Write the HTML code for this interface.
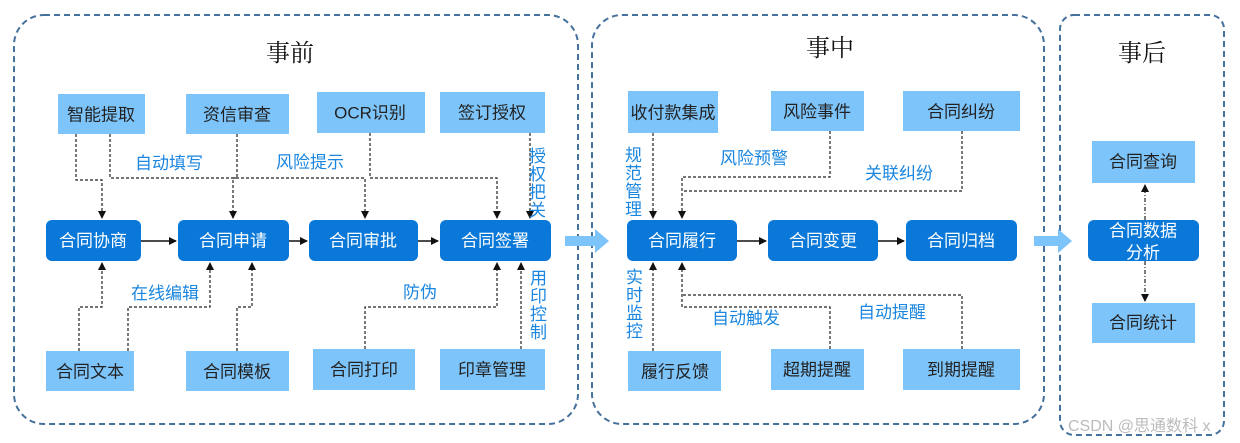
<!DOCTYPE html>
<html><head><meta charset="utf-8"><style>
html,body{margin:0;padding:0;background:#fff;width:1240px;height:443px;overflow:hidden}
svg text{font-family:"Liberation Sans","Noto Sans CJK SC",sans-serif}
.t{font-family:"Liberation Serif","Noto Serif CJK SC",serif;font-size:24px;fill:#111;text-anchor:middle}
.lb{fill:#7dc4fb}.db{fill:#0a78d8}
.bt{font-size:17px;fill:#222;text-anchor:middle;dominant-baseline:central}
.wt{font-size:17px;fill:#fff;text-anchor:middle;dominant-baseline:central}
.lab{font-size:17px;fill:#1a86e0}
.dl{fill:none;stroke:#222;stroke-width:1.2;stroke-dasharray:3,2}
.sl{stroke:#111;stroke-width:1.5}
</style></head><body>
<svg width="1240" height="443" viewBox="0 0 1240 443" xmlns="http://www.w3.org/2000/svg">
<defs><marker id="a" markerWidth="8" markerHeight="8" refX="7" refY="4" orient="auto" markerUnits="userSpaceOnUse"><path d="M0,0 L8,4 L0,8z" fill="#111"/></marker></defs>
<g fill="none" stroke="#46719c" stroke-width="2" stroke-dasharray="6,4">
<rect x="14" y="15" width="564" height="409" rx="30"/>
<rect x="592" y="15" width="452" height="409" rx="30"/>
<rect x="1060" y="15" width="164" height="420" rx="14"/>
</g>
<text class="t" x="290" y="61">事前</text>
<text class="t" x="830" y="56">事中</text>
<text class="t" x="1142" y="61">事后</text>
<!-- big arrows -->
<path d="M565,236 h30 v-7 l14,12 l-14,12 v-7 h-30z" fill="#7dc4fb"/>
<path d="M1034,236 h24 v-7 l14,12 l-14,12 v-7 h-24z" fill="#7dc4fb"/>
<!-- panel1 boxes -->
<rect class="lb" x="58" y="94" width="87" height="40"/><text class="bt" x="101" y="115">智能提取</text>
<rect class="lb" x="186" y="94" width="103" height="40"/><text class="bt" x="237" y="115">资信审查</text>
<rect class="lb" x="317" y="92" width="108" height="41"/><text class="bt" x="370" y="113">OCR识别</text>
<rect class="lb" x="440" y="92" width="105" height="41"/><text class="bt" x="492" y="113">签订授权</text>
<rect class="db" x="46" y="220" width="95" height="41" rx="6"/><text class="wt" x="93" y="241">合同协商</text>
<rect class="db" x="178" y="220" width="111" height="41" rx="6"/><text class="wt" x="233" y="241">合同申请</text>
<rect class="db" x="309" y="220" width="109" height="41" rx="6"/><text class="wt" x="363" y="241">合同审批</text>
<rect class="db" x="440" y="220" width="111" height="41" rx="6"/><text class="wt" x="495" y="241">合同签署</text>
<rect class="lb" x="46" y="351" width="88" height="40"/><text class="bt" x="90" y="372">合同文本</text>
<rect class="lb" x="186" y="351" width="103" height="40"/><text class="bt" x="237" y="372">合同模板</text>
<rect class="lb" x="313" y="349" width="102" height="41"/><text class="bt" x="364" y="370">合同打印</text>
<rect class="lb" x="440" y="349" width="105" height="41"/><text class="bt" x="492" y="370">印章管理</text>
<line class="sl" x1="141" y1="241" x2="176" y2="241" marker-end="url(#a)"/>
<line class="sl" x1="289" y1="241" x2="307" y2="241" marker-end="url(#a)"/>
<line class="sl" x1="418" y1="241" x2="438" y2="241" marker-end="url(#a)"/>
<path class="dl" d="M76,134 V180 H102 V218" marker-end="url(#a)"/>
<path class="dl" d="M110,134 V178 H365 V218" marker-end="url(#a)"/>
<path class="dl" d="M237,134 V178 H233 V218" marker-end="url(#a)"/>
<path class="dl" d="M370,133 V178 H497 V218" marker-end="url(#a)"/>
<path class="dl" d="M530,133 V218" marker-end="url(#a)"/>
<path class="dl" d="M79,351 V307 H102 V263" marker-end="url(#a)"/>
<path class="dl" d="M128,351 V307 H210 V263" marker-end="url(#a)"/>
<path class="dl" d="M237,351 V307 H252 V263" marker-end="url(#a)"/>
<path class="dl" d="M365,349 V307 H497 V263" marker-end="url(#a)"/>
<path class="dl" d="M521,349 V263" marker-end="url(#a)"/>
<text class="lab" x="135" y="169">自动填写</text>
<text class="lab" x="276" y="168">风险提示</text>
<text class="lab" x="131" y="299">在线编辑</text>
<text class="lab" x="403" y="298">防伪</text>
<text class="lab" x="529" y="162">授</text><text class="lab" x="529" y="180">权</text><text class="lab" x="529" y="198">把</text><text class="lab" x="529" y="216">关</text>
<text class="lab" x="530" y="284">用</text><text class="lab" x="530" y="302">印</text><text class="lab" x="530" y="320">控</text><text class="lab" x="530" y="338">制</text>
<!-- panel2 -->
<rect class="lb" x="628" y="91" width="90" height="42"/><text class="bt" x="673" y="113">收付款集成</text>
<rect class="lb" x="771" y="91" width="93" height="40"/><text class="bt" x="817" y="112">风险事件</text>
<rect class="lb" x="903" y="91" width="117" height="40"/><text class="bt" x="961" y="112">合同纠纷</text>
<rect class="db" x="627" y="220" width="110" height="41" rx="6"/><text class="wt" x="682" y="241">合同履行</text>
<rect class="db" x="768" y="220" width="110" height="41" rx="6"/><text class="wt" x="823" y="241">合同变更</text>
<rect class="db" x="906" y="220" width="111" height="41" rx="6"/><text class="wt" x="961" y="241">合同归档</text>
<rect class="lb" x="628" y="351" width="93" height="40"/><text class="bt" x="675" y="372">履行反馈</text>
<rect class="lb" x="771" y="349" width="93" height="41"/><text class="bt" x="817" y="370">超期提醒</text>
<rect class="lb" x="903" y="349" width="117" height="41"/><text class="bt" x="961" y="370">到期提醒</text>
<line class="sl" x1="737" y1="241" x2="766" y2="241" marker-end="url(#a)"/>
<line class="sl" x1="878" y1="241" x2="904" y2="241" marker-end="url(#a)"/>
<path class="dl" d="M653,133 V218" marker-end="url(#a)"/>
<path class="dl" d="M830,131 V177 H682 V218" marker-end="url(#a)"/>
<path class="dl" d="M962,131 V191 H682"/>
<path class="dl" d="M653,351 V263" marker-end="url(#a)"/>
<path class="dl" d="M830,349 V307 H682 V263" marker-end="url(#a)"/>
<path class="dl" d="M962,349 V295 H682"/>
<text class="lab" x="720" y="164">风险预警</text>
<text class="lab" x="865" y="179">关联纠纷</text>
<text class="lab" x="712" y="324">自动触发</text>
<text class="lab" x="858" y="318">自动提醒</text>
<text class="lab" x="625" y="161">规</text><text class="lab" x="625" y="179">范</text><text class="lab" x="625" y="197">管</text><text class="lab" x="625" y="215">理</text>
<text class="lab" x="626" y="283">实</text><text class="lab" x="626" y="301">时</text><text class="lab" x="626" y="319">监</text><text class="lab" x="626" y="337">控</text>
<!-- panel3 -->
<rect class="lb" x="1092" y="141" width="103" height="42"/><text class="bt" x="1143" y="162">合同查询</text>
<rect class="db" x="1088" y="220" width="111" height="41" rx="6"/>
<text class="wt" x="1143" y="231">合同数据</text><text class="wt" x="1143" y="253">分析</text>
<rect class="lb" x="1092" y="303" width="103" height="40"/><text class="bt" x="1143" y="323">合同统计</text>
<path d="M1145,220 V185" fill="none" stroke="#222" stroke-width="1.2" stroke-dasharray="4,2,1,2" marker-end="url(#a)"/>
<path d="M1145,261 V301" fill="none" stroke="#222" stroke-width="1.2" stroke-dasharray="4,2,1,2" marker-end="url(#a)"/>
<text x="1068" y="431" font-size="16" fill="#bbb" style="font-size:16px">CSDN @思通数科 x</text>
</svg>
</body></html>
